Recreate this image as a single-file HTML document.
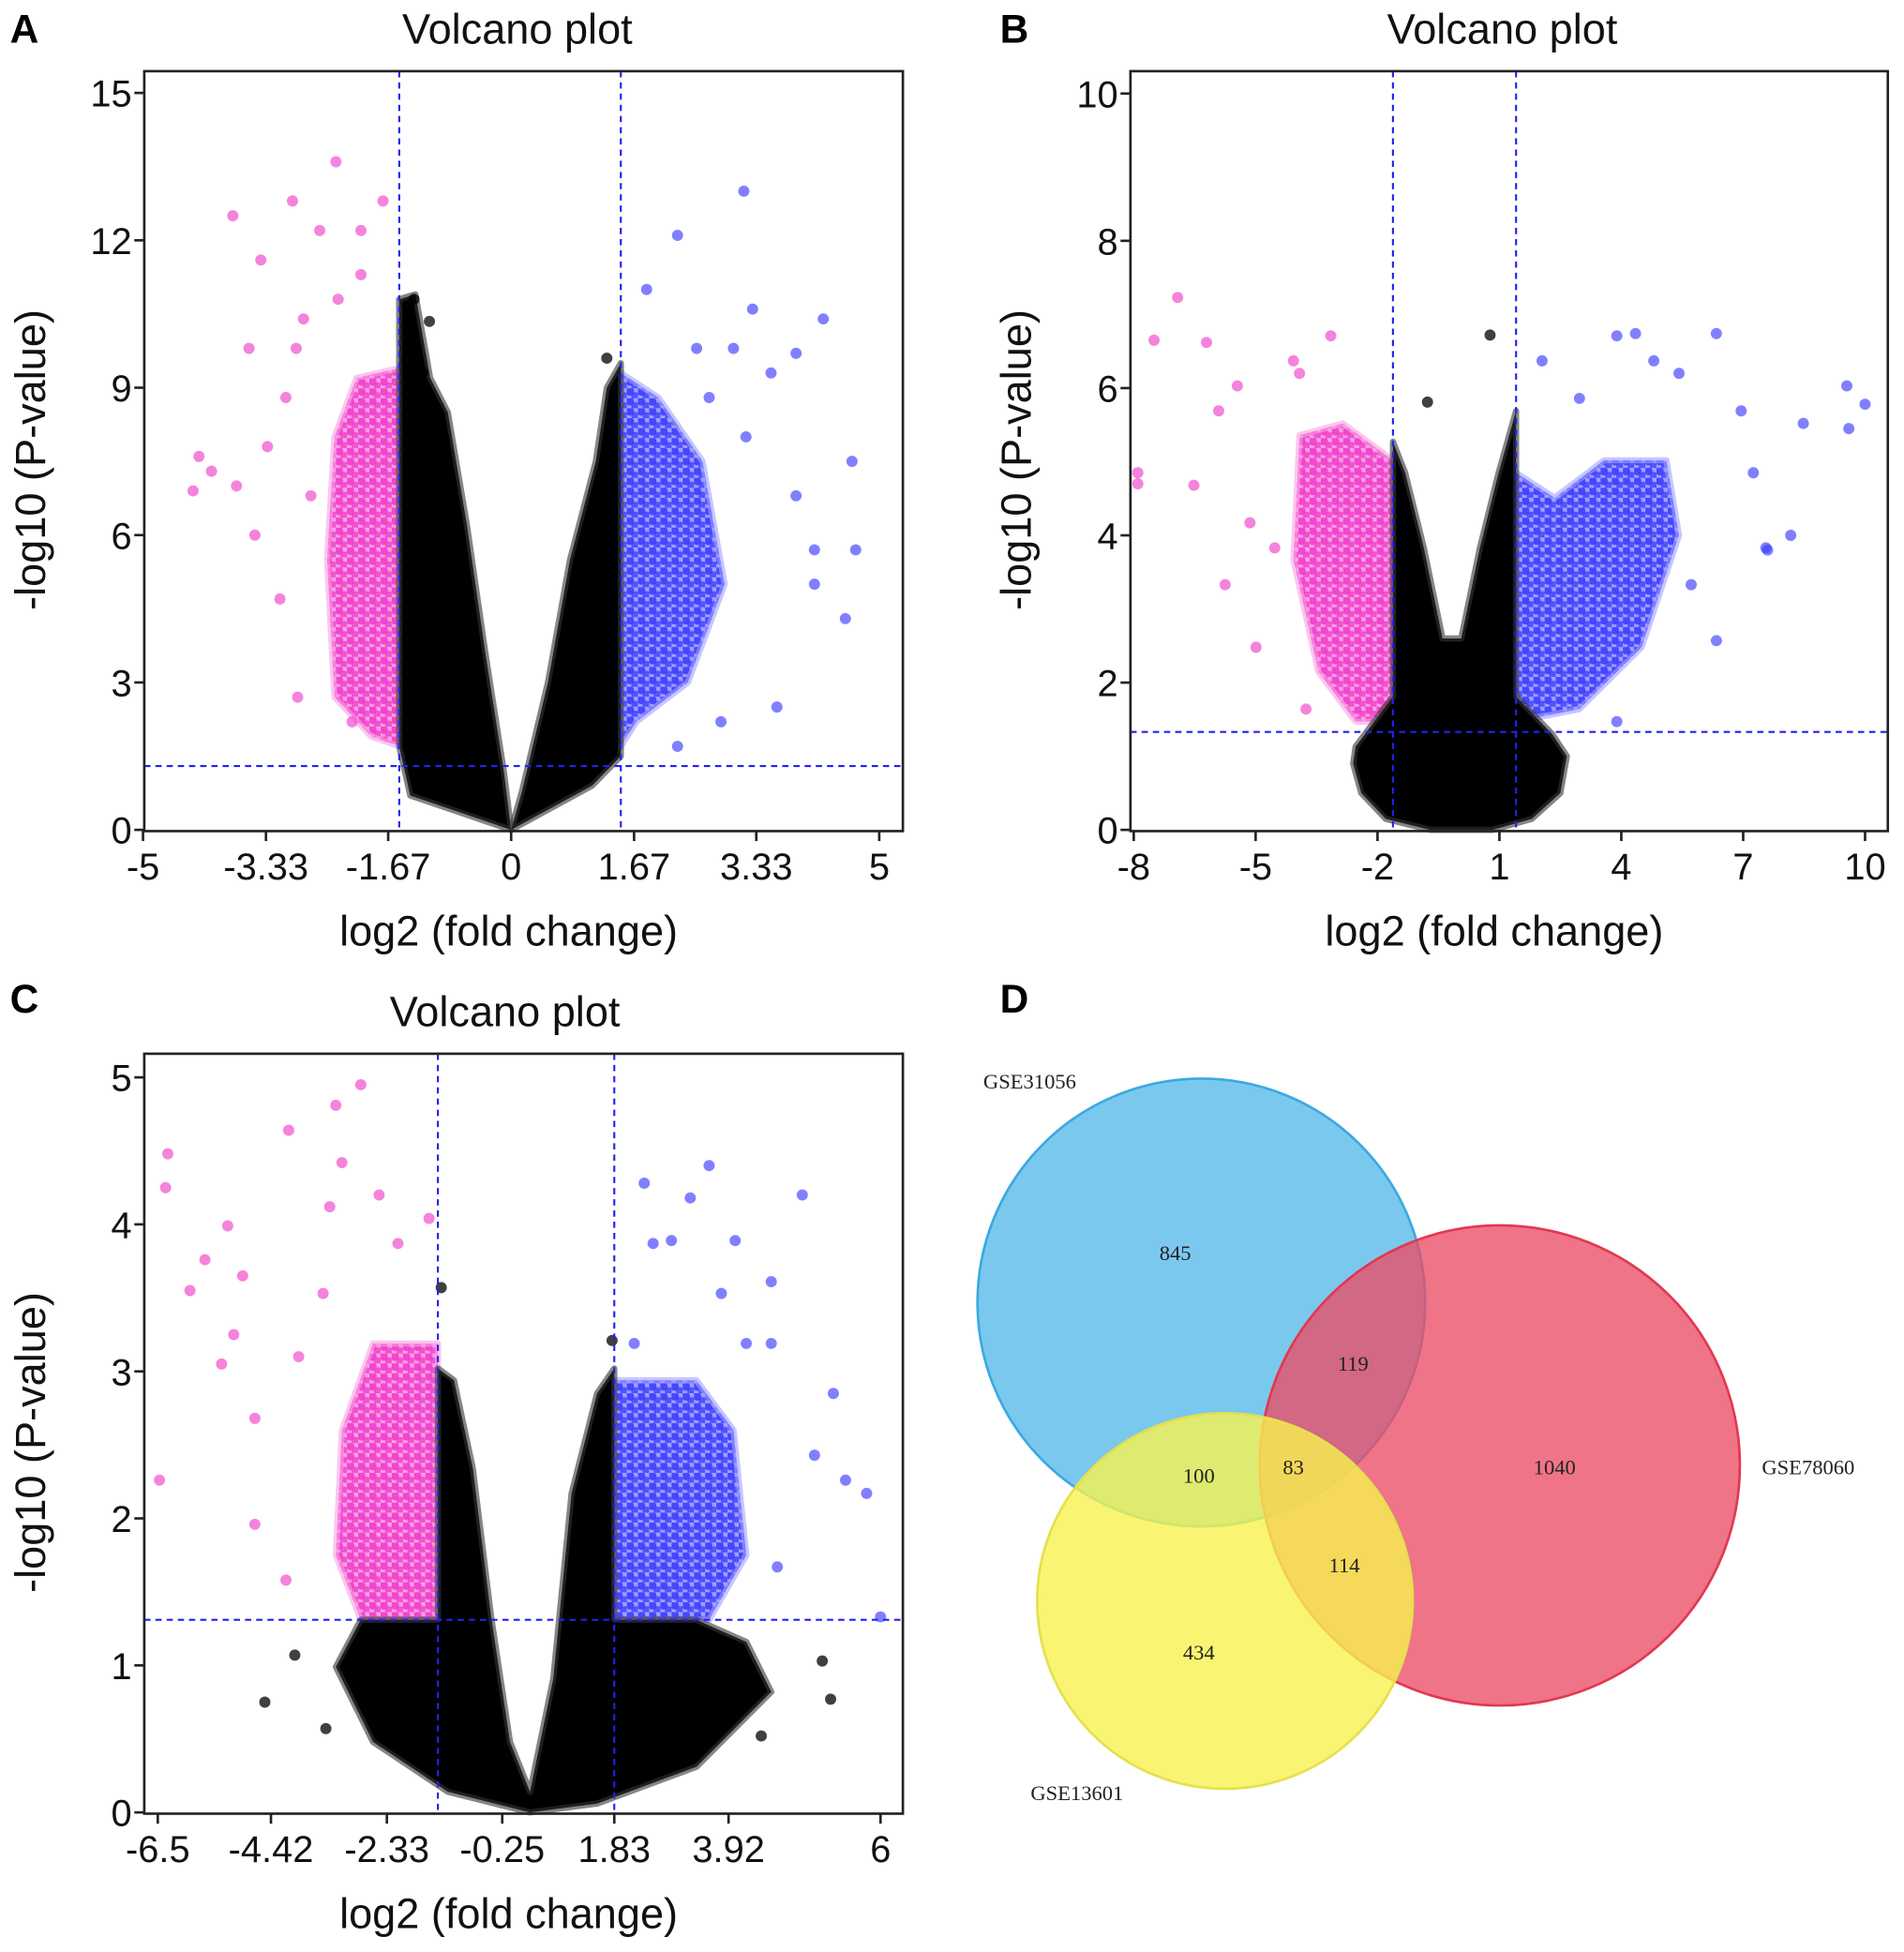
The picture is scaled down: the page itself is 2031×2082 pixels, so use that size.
<!DOCTYPE html>
<html><head><meta charset="utf-8"><style>
html,body{margin:0;padding:0;background:#fff}
svg{display:block}
text{font-family:"Liberation Sans",sans-serif}
.serif{font-family:"Liberation Serif",serif}
</style></head><body>
<svg id="fig" width="2031" height="2082" viewBox="0 0 1531 1569" xmlns="http://www.w3.org/2000/svg">
<defs>
  <pattern id="pinkDots" width="9" height="8" patternUnits="userSpaceOnUse">
    <rect width="9" height="8" fill="#f8a0e4"/>
    <circle cx="2.5" cy="2.5" r="3.4" fill="#f030c8" fill-opacity="0.8"/>
    <circle cx="7" cy="6.5" r="3.4" fill="#f030c8" fill-opacity="0.7"/>
  </pattern>
  <pattern id="blueDots" width="9" height="8" patternUnits="userSpaceOnUse">
    <rect width="9" height="8" fill="#a0a0ff"/>
    <circle cx="2.5" cy="2.5" r="3.4" fill="#3030ff" fill-opacity="0.8"/>
    <circle cx="7" cy="6.5" r="3.4" fill="#3030ff" fill-opacity="0.7"/>
  </pattern>
</defs>
<rect width="1531" height="1569" fill="#fff"/>
<g id="venn">
  <circle cx="966" cy="1047" r="180" fill="#7bc8ee" stroke="#3aa9e0" stroke-width="2"/>
  <circle cx="1206" cy="1178" r="193" fill="#ea4d66" fill-opacity="0.78" stroke="#e2384f" stroke-width="2"/>
  <circle cx="985" cy="1287" r="151" fill="#f8f250" fill-opacity="0.8" stroke="#e5e04d" stroke-width="2"/>
  <g class="serif" font-size="17" fill="#222" text-anchor="middle">
    <text class="serif" x="828" y="875">GSE31056</text>
    <text class="serif" x="1454" y="1185">GSE78060</text>
    <text class="serif" x="866" y="1447">GSE13601</text>
    <text class="serif" x="945" y="1013">845</text>
    <text class="serif" x="1088" y="1102">119</text>
    <text class="serif" x="964" y="1192">100</text>
    <text class="serif" x="1040" y="1185">83</text>
    <text class="serif" x="1250" y="1185">1040</text>
    <text class="serif" x="1081" y="1264">114</text>
    <text class="serif" x="964" y="1334">434</text>
  </g>
</g>
<g font-weight="bold" font-size="32">
  <text x="8" y="34">A</text>
  <text x="804" y="34">B</text>
  <text x="8" y="814">C</text>
  <text x="804" y="814">D</text>
</g>
</svg>
<script>
// ---------- Panel A data ----------
const aXTicks=[-5,-3.33,-1.67,0,1.67,3.33,5];
const aXTickLabels=["-5","-3.33","-1.67","0","1.67","3.33","5"];
const aYTicks=[0,3,6,9,12,15];
const aCutX=[-1.52,1.49];
const aCutY=1.3;
const aBlackLeft=[[0,0],[-1.37,0.7],[-1.52,1.7],[-1.52,10.8],[-1.3,10.9],[-1.1,9.2],[-0.86,8.5],[-0.6,6.2],[-0.35,3.6],[-0.1,1.2]];
const aBlackRight=[[0,0],[1.1,0.9],[1.49,1.5],[1.49,9.5],[1.3,9.0],[1.15,7.5],[0.8,5.5],[0.5,3.0],[0.15,0.8]];
const aPinkArea=[[-1.52,1.7],[-1.9,1.9],[-2.4,2.7],[-2.5,5.5],[-2.4,8.0],[-2.1,9.2],[-1.52,9.4]];
const aBlueArea=[[1.49,1.7],[1.7,2.2],[2.4,3.0],[2.9,5.0],[2.6,7.5],[2.0,8.8],[1.49,9.3]];
const aPinkX=[-2.38,-2.97,-3.78,-3.4,-2.6,-2.04,-1.74,-2.82,-2.35,-3.56,-4.24,-4.07,-4.32,-3.73,-3.48,-3.06,-3.31,-3.14,-2.9,-2.16,-2.72,-2.92,-2.04];
const aPinkY=[13.6,12.8,12.5,11.6,12.2,12.2,12.8,10.4,10.8,9.8,7.6,7.3,6.9,7.0,6.0,8.8,7.8,4.7,2.7,2.2,6.8,9.8,11.3];
const aBlueX=[3.16,2.26,1.84,3.28,4.24,4.63,4.68,4.54,4.12,3.87,3.53,3.02,2.69,3.61,2.85,2.26,3.19,2.52,3.87,4.12];
const aBlueY=[13.0,12.1,11.0,10.6,10.4,7.5,5.7,4.3,5.0,6.8,9.3,9.8,8.8,2.5,2.2,1.7,8.0,9.8,9.7,5.7];
const aBlackX=[-1.32,-1.11,-1.2,1.3];
const aBlackY=[10.8,10.35,9.3,9.6];
// ---------- Panel B data ----------
const bXTicks=[-8,-5,-2,1,4,7,10];
const bXTickLabels=["-8","-5","-2","1","4","7","10"];
const bYTicks=[0,2,4,6,8,10];
const bCutX=[-1.62,1.41];
const bCutY=1.33;
const bBlack=[[-2.54,1.13],[-1.62,1.81],[-1.62,5.27],[-1.32,4.85],[-0.86,3.83],[-0.4,2.6],[0.06,2.6],[0.52,3.83],[0.98,4.85],[1.41,5.69],[1.41,1.81],[2.3,1.3],[2.66,1.0],[2.5,0.5],[1.8,0.15],[0.83,0],[-0.7,0],[-1.8,0.15],[-2.4,0.5],[-2.6,0.9]];
const bPinkArea=[[-1.62,1.47],[-2.54,1.47],[-3.46,2.15],[-4.07,3.67],[-3.92,5.36],[-2.85,5.52],[-1.62,5.02]];
const bBlueArea=[[1.41,1.47],[2.97,1.64],[4.5,2.48],[5.42,4.0],[5.11,5.02],[3.58,5.02],[2.36,4.51],[1.41,4.85]];
const bPinkX=[-6.92,-7.5,-6.21,-7.9,-6.52,-5.91,-5.45,-5.14,-5.75,-4.99,-4.07,-3.15,-3.76,-4.53,-3.92,-7.9];
const bPinkY=[7.23,6.65,6.62,4.85,4.68,5.69,6.03,4.17,3.33,2.48,6.37,6.71,1.64,3.83,6.2,4.7];
const bBlueX=[3.89,4.35,6.34,9.55,10.0,8.48,7.25,8.17,5.42,6.95,6.34,4.8,2.97,7.56,5.72,3.89,2.05,9.6,7.6];
const bBlueY=[6.71,6.74,6.74,6.03,5.78,5.52,4.85,4.0,6.2,5.69,2.57,6.37,5.86,3.83,3.33,1.47,6.37,5.45,3.8];
const bBlackX=[0.77,-0.77];
const bBlackY=[6.72,5.81];
// ---------- Panel C data ----------
const cXTicks=[-6.46,-4.42,-2.33,-0.25,1.77,3.83,6.57];
const cXTickLabels=["-6.5","-4.42","-2.33","-0.25","1.83","3.92","6"];
const cYTicks=[0,1,2,3,4,5];
const cCutX=[-1.41,1.77];
const cCutY=1.31;
const cBlack=[[0.25,0],[-1.23,0.14],[-2.58,0.48],[-3.25,0.99],[-2.8,1.31],[-1.41,1.31],[-1.41,3.02],[-1.12,2.94],[-0.78,2.34],[-0.45,1.33],[-0.11,0.48],[0.25,0.14],[0.67,0.91],[1.0,2.17],[1.46,2.85],[1.77,3.02],[1.77,1.31],[3.25,1.31],[4.15,1.16],[4.6,0.82],[3.25,0.31],[1.46,0.06]];
const cPinkArea=[[-1.41,1.31],[-2.8,1.31],[-3.25,1.75],[-3.14,2.6],[-2.58,3.19],[-1.41,3.19]];
const cBlueArea=[[1.77,1.31],[3.48,1.31],[4.15,1.75],[3.92,2.6],[3.25,2.94],[1.77,2.94]];
const cPinkX=[-6.28,-6.32,-6.43,-5.61,-5.88,-5.2,-4.93,-5.09,-5.31,-4.71,-4.1,-3.25,-2.8,-3.14,-3.36,-2.47,-2.13,-1.57,-3.92,-4.15,-4.71,-3.48];
const cPinkY=[4.48,4.25,2.26,3.76,3.55,3.99,3.65,3.25,3.05,2.68,4.64,4.81,4.95,4.42,4.12,4.2,3.87,4.04,3.1,1.58,1.96,3.53];
const cBlueX=[3.48,5.16,2.31,3.14,3.95,2.8,4.6,3.7,4.15,4.6,5.72,5.38,5.94,6.32,6.57,2.47,4.71,2.13];
const cBlueY=[4.4,4.2,4.28,4.18,3.89,3.89,3.61,3.53,3.19,3.19,2.85,2.43,2.26,2.17,1.33,3.87,1.67,3.19];
const cBlackX=[-4.53,-3.99,-3.43,5.67,5.52,4.42,-1.35,1.73];
const cBlackY=[0.75,1.07,0.57,0.77,1.03,0.52,3.57,3.21];

const NS="http://www.w3.org/2000/svg";
const svg=document.getElementById('fig');
function mk(tag,attrs,parent){const e=document.createElementNS(NS,tag);for(const k in attrs)e.setAttribute(k,attrs[k]);(parent||svg).appendChild(e);return e;}

function panel(cfg){
  const g=mk('g',{});
  
  
  const sx=v=>cfg.x0px+(v-cfg.x0)*cfg.xs;
  const sy=v=>cfg.yBase-v*cfg.ys;
  const poly=(pts,fill,stroke,name)=>{
    const p=mk('polygon',{points:pts.map(q=>sx(q[0])+','+sy(q[1])).join(' '),fill:fill,stroke:stroke,'stroke-width':5,'stroke-linejoin':'round','stroke-opacity':0.6},g);
    
    
  };
  const pts=(xs,ys,fill,op,name)=>{
    for(let i=0;i<xs.length;i++){
      const c=mk('circle',{cx:sx(xs[i]),cy:sy(ys[i]),r:4.5,fill:fill,'fill-opacity':op},g);
      
      
    }
  };
  cfg.areas.forEach(a=>poly(a[0],a[1],a[2],a[3]));
  pts(cfg.px,cfg.py,'#f040c8',0.65,'down-regulated-point');
  pts(cfg.bx,cfg.by,'#3c3cff',0.65,'up-regulated-point');
  pts(cfg.kx,cfg.ky,'#000',0.75,'not-significant-point');
  cfg.cutX.forEach(v=>{const l=mk('line',{x1:sx(v),x2:sx(v),y1:cfg.top,y2:cfg.bottom,stroke:'#2222ee','stroke-width':1.6,'stroke-dasharray':'5,4'},g);
    
    });
  const h=mk('line',{x1:cfg.left,x2:cfg.right,y1:sy(cfg.cutY),y2:sy(cfg.cutY),stroke:'#2222ee','stroke-width':1.6,'stroke-dasharray':'5,4'},g);
  
  
  const box=mk('rect',{x:cfg.left,y:cfg.top,width:cfg.right-cfg.left,height:cfg.bottom-cfg.top,fill:'none',stroke:'#222','stroke-width':2},g);
  
  
  cfg.xt.forEach((v,i)=>{
    mk('line',{x1:sx(v),x2:sx(v),y1:cfg.bottom,y2:cfg.bottom+8,stroke:'#222','stroke-width':2},g);
    const t=mk('text',{x:sx(v),y:cfg.bottom+39,'font-size':30,'text-anchor':'middle',fill:'#111'},g);
    t.textContent=cfg.xl[i];
    
    
  });
  cfg.yt.forEach(v=>{
    mk('line',{x1:cfg.left-8,x2:cfg.left,y1:sy(v),y2:sy(v),stroke:'#222','stroke-width':2},g);
    const t=mk('text',{x:cfg.left-10,y:sy(v)+11,'font-size':30,'text-anchor':'end',fill:'#111'},g);
    t.textContent=String(v);
    
    
  });
  const ti=mk('text',{x:cfg.titleX,y:cfg.top-22,'font-size':34,'text-anchor':'middle',fill:'#111'},g);
  ti.textContent='Volcano plot';
  
  
  const xa=mk('text',{x:(cfg.left+cfg.right)/2-12,y:cfg.bottom+92,'font-size':34,'text-anchor':'middle',fill:'#111'},g);
  xa.textContent='log2 (fold change)';
  
  
  const yx=cfg.left-80, yy=(cfg.top+cfg.bottom)/2+7;
  const ya=mk('text',{x:yx,y:yy,'font-size':34,'text-anchor':'middle',fill:'#111',transform:'rotate(-90 '+yx+' '+yy+')'},g);
  ya.textContent='-log10 (P-value)';
  
  
}

panel({name:'volcano-plot-a',left:116,right:726,top:57,bottom:668,titleX:416,x0:0,x0px:411,xs:59.2,yBase:667,ys:39.5,
  xt:aXTicks,xl:aXTickLabels,yt:aYTicks,cutX:aCutX,cutY:aCutY,
  areas:[[aPinkArea,'url(#pinkDots)','#f8a0e4','down-regulated-cluster'],[aBlueArea,'url(#blueDots)','#a0a0ff','up-regulated-cluster'],[aBlackLeft,'#000','#333','not-significant-cluster'],[aBlackRight,'#000','#333','not-significant-cluster']],
  px:aPinkX,py:aPinkY,bx:aBlueX,by:aBlueY,kx:aBlackX,ky:aBlackY});
panel({name:'volcano-plot-b',left:909,right:1518,top:57,bottom:668,titleX:1208,x0:0,x0px:1173,xs:32.67,yBase:667,ys:59.2,
  xt:bXTicks,xl:bXTickLabels,yt:bYTicks,cutX:bCutX,cutY:bCutY,
  areas:[[bPinkArea,'url(#pinkDots)','#f8a0e4','down-regulated-cluster'],[bBlueArea,'url(#blueDots)','#a0a0ff','up-regulated-cluster'],[bBlack,'#000','#333','not-significant-cluster']],
  px:bPinkX,py:bPinkY,bx:bBlueX,by:bBlueY,kx:bBlackX,ky:bBlackY});
panel({name:'volcano-plot-c',left:116,right:726,top:847,bottom:1458,titleX:406,x0:0,x0px:415,xs:44.6,yBase:1457,ys:118.2,
  xt:cXTicks,xl:cXTickLabels,yt:cYTicks,cutX:cCutX,cutY:cCutY,
  areas:[[cPinkArea,'url(#pinkDots)','#f8a0e4','down-regulated-cluster'],[cBlueArea,'url(#blueDots)','#a0a0ff','up-regulated-cluster'],[cBlack,'#000','#333','not-significant-cluster']],
  px:cPinkX,py:cPinkY,bx:cBlueX,by:cBlueY,kx:cBlackX,ky:cBlackY});
</script>
</body></html>
